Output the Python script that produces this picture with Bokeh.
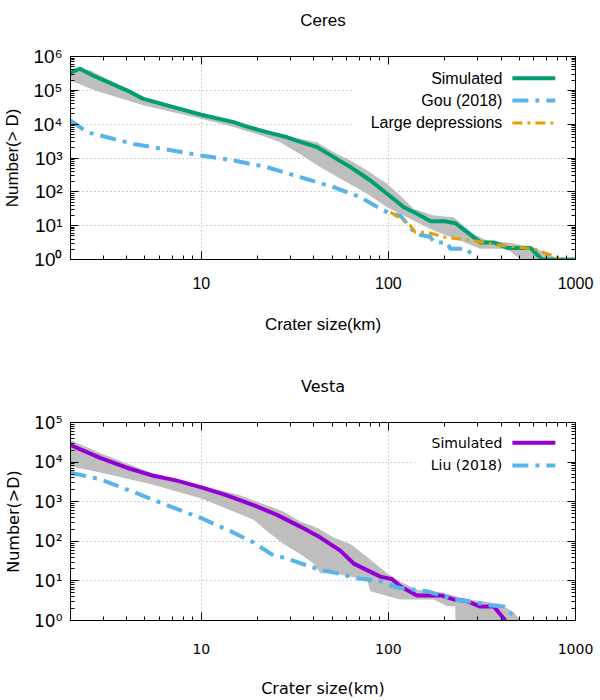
import numpy as np
from bokeh.plotting import figure
from bokeh.models import (LogAxis, LogTicker, CustomJSTickFormatter, Label,
                          BoxAnnotation, Range1d)
from bokeh.layouts import column
from bokeh.embed import file_html
from bokeh.resources import INLINE

# ---------------- data ----------------
XMIN, XMAX = 2, 1000

# Ceres
ceres_sim_d = [2.0, 2.25, 2.65, 4.0, 4.9, 7.1, 10, 14.9, 17.5, 22.4, 28.7, 33.8, 41.6, 51, 62.7,
               80.2, 98.4, 121, 142, 168, 198, 228, 310, 366, 431, 574, 663, 1000]
ceres_sim_n = [3.4e5, 4.3e5, 2.7e5, 1.0e5, 5.6e4, 3.2e4, 1.9e4, 1.15e4, 8.5e3, 5.8e3, 4.1e3, 3.0e3,
               2.1e3, 1.06e3, 537, 216, 87.7, 35, 22.4, 13.6, 13.6, 11.8, 3.2, 3.2, 2.2, 2.2, 1, 1]

ceres_up_d = [2, 2.55, 3.26, 4.0, 4.9, 7.1, 10, 14.9, 22.4, 33.8, 41.6, 51, 62.7, 77, 98.4, 115.6,
              136, 175, 223, 286, 337, 431, 598, 706, 832]
ceres_up_n = [3.4e5, 3.9e5, 1.95e5, 1.1e5, 6.5e4, 3.6e4, 2.1e4, 1.25e4, 6.5e3, 3.7e3, 2.9e3, 1.48e3,
              846, 427, 173, 78, 31.5, 20, 17.8, 5.7, 3.6, 3.2, 2.3, 1.47, 1.0]
ceres_lo_d = [2, 2.45, 2.88, 4.9, 10, 14.9, 22.4, 26.4, 31.2, 33.8, 43.3, 57.7, 77, 98.4, 121, 142,
              175, 243, 310, 431, 508, 832]
ceres_lo_n = [1.95e5, 1.24e5, 8.9e4, 3.6e4, 1.44e4, 8.2e3, 4.1e3, 2.9e3, 1.66e3, 1.3e3, 537, 216,
              87.7, 35, 20, 12.7, 7.2, 3.6, 2.07, 2.07, 1.0, 1.0]

gou_d = [2, 2.45, 4.35, 10, 14.9, 22.4, 33.8, 51, 70.8, 90.6, 102.6, 115.6, 131, 139, 168, 175, 206,
         214, 263, 276, 300]
gou_n = [1.29e4, 5.8e3, 2.6e3, 1.19e3, 846, 537, 272, 137, 69.6, 31.5, 22.4, 20, 9, 5.7, 4.6, 3.2,
         3.2, 2.07, 2.07, 1.47, 0.9]

large_d = [102.6, 121, 131, 139, 161, 198, 286, 398, 598, 794, 900]
large_n = [25, 14.2, 10, 6.4, 6.4, 4.6, 3.6, 2.6, 2.07, 1.17, 1.0]

# Vesta
vesta_sim_d = [2, 2.88, 4.0, 5.56, 7.41, 10, 13.7, 19, 25.4, 33.8, 43.3, 55.3, 65.3, 90.6, 104.7,
               115.6, 142, 190, 223, 263, 310, 366, 422]
vesta_sim_n = [2.7e4, 1.28e4, 7.2e3, 4.5e3, 3.4e3, 2.3e3, 1.45e3, 820, 465, 235, 124, 58, 27.3,
               12.8, 11, 7.3, 4.3, 4.3, 3.4, 3.1, 2.25, 2.25, 1.0]

vesta_up_d = [2, 2.88, 5.33, 10, 16.1, 27.5, 33.8, 41.6, 51, 62.7, 77, 98.4, 115.6, 142, 198, 263,
              310, 398, 468, 508]
vesta_up_n = [3.6e4, 1.7e4, 5.5e3, 2.55e3, 1.45e3, 563, 318, 219, 124, 85, 40, 15.5, 9.7, 6, 5,
              3.4, 3.1, 2.6, 1.6, 1.0]
vesta_lo_d = [2, 2.88, 5.33, 10, 14.9, 19, 22.4, 27.5, 33.8, 39.9, 43.3, 51, 77, 80, 115.6, 175,
              206, 228, 228, 508]
vesta_lo_n = [7.9e3, 5.5e3, 2.8e3, 1.2e3, 563, 350, 181, 85, 48, 27, 15.5, 15.5, 10.6, 5.5, 3.4,
              3.4, 2.3, 2.3, 1.0, 1.0]

liu_d = [2, 2.88, 4.35, 6.55, 10, 14.9, 19, 24.3, 28.1, 33.8, 43.3, 55, 66.5, 77, 92.6, 106, 115.6,
         161, 223, 263, 351, 414, 498]
liu_n = [5.4e3, 3.7e3, 1.75e3, 820, 385, 165, 93, 44, 38, 28, 19, 15.2, 11.8, 10.8, 9.7, 7.3, 6.6,
         5.5, 3.4, 3.1, 2.4, 2.25, 1.0]

# ---------------- styles ----------------
GREEN = "#009e73"
BLUE = "#56b4e9"
ORANGE = "#e69f00"
PURPLE = "#9400d3"
BAND = "#bebebe"

SUP_JS = """
const s = {'0':'\u2070','1':'\u00b9','2':'\u00b2','3':'\u00b3','4':'\u2074','5':'\u2075',
           '6':'\u2076','7':'\u2077','8':'\u2078','9':'\u2079','-':'\u207b'};
const e = Math.round(Math.log10(tick));
return '10' + String(e).split('').map(c => s[c]).join('');
"""
NUM_JS = "return String(Math.round(tick));"


def fx(frac):
    a, b = np.log10(XMIN), np.log10(XMAX)
    return 10 ** (a + frac * (b - a))


def fy(frac, ymax):
    return 10 ** (frac * np.log10(ymax))


def tick_style(ax):
    ax.major_tick_in = 8
    ax.major_tick_out = 0
    ax.minor_tick_in = 4
    ax.minor_tick_out = 0
    ax.axis_line_color = "black"
    ax.major_tick_line_color = "black"
    ax.minor_tick_line_color = "black"


def make_fig(height, ymax, title, ylab, font, fs_title, fs_label, fs_xtick, fs_ytick,
             tick_standoff, label_standoff):
    p = figure(width=600, height=height, x_axis_type="log", y_axis_type="log",
               x_range=Range1d(XMIN, XMAX), y_range=Range1d(1, ymax),
               output_backend="svg", toolbar_location=None,
               min_border_left=70, min_border_right=25, min_border_top=56,
               min_border_bottom=height - 259)
    p.background_fill_color = "white"
    p.border_fill_color = "white"
    p.outline_line_color = "black"
    p.outline_line_width = 1

    # title: a blank second line lifts it well above the frame
    p.title.text = title + "\n "
    p.title.align = "center"
    p.title.text_font = font
    p.title.text_font_style = "normal"
    p.title.text_font_size = fs_title
    p.title.text_color = "black"
    p.title.standoff = 16

    xa = p.xaxis[0]
    xa.ticker = LogTicker(num_minor_ticks=10)
    xa.formatter = CustomJSTickFormatter(code=NUM_JS)
    xa.axis_label = "Crater size(km)"
    xa.major_label_standoff = tick_standoff
    xa.axis_label_standoff = label_standoff
    ya = p.yaxis[0]
    ya.ticker = LogTicker(num_minor_ticks=10)
    ya.formatter = CustomJSTickFormatter(code=SUP_JS)
    ya.axis_label = ylab
    ya.major_label_standoff = 8
    ya.axis_label_standoff = 8
    for ax, fs in ((xa, fs_xtick), (ya, fs_ytick)):
        tick_style(ax)
        ax.major_label_text_font = font
        ax.major_label_text_font_size = fs
        ax.major_label_text_color = "black"
        ax.axis_label_text_font = font
        ax.axis_label_text_font_size = fs_label
        ax.axis_label_text_font_style = "normal"
        ax.axis_label_text_color = "black"

    for loc in ("right", "above"):
        ax = LogAxis(ticker=LogTicker(num_minor_ticks=10),
                     formatter=CustomJSTickFormatter(code="return '';"),
                     major_label_text_font_size="0px", major_label_standoff=0)
        tick_style(ax)
        p.add_layout(ax, loc)

    for g in (p.xgrid[0], p.ygrid[0]):
        g.grid_line_color = "#a0a0a0"
        g.grid_line_dash = "1 3"
        g.grid_line_width = 1
        g.level = "image"
    return p


def add_legend(p, ymax, box, rows, font, fs):
    bx0, by0 = box
    p.add_layout(BoxAnnotation(left=fx(bx0), right=XMAX, bottom=fy(by0, ymax), top=ymax,
                               fill_color="white", fill_alpha=1.0, line_alpha=0,
                               level="underlay"))
    for text, yf, color, width, dash in rows:
        yy = fy(yf, ymax)
        p.add_layout(Label(x=fx(0.855), y=yy, text=text, text_align="right",
                           text_baseline="middle", text_font=font, text_font_size=fs,
                           text_color="black"))
        p.segment(x0=[fx(0.875)], y0=[yy], x1=[fx(0.96)], y1=[yy], line_color=color,
                  line_width=width, line_dash=dash)


# ---------------- Ceres ----------------
F1 = "Liberation Sans"
p1 = make_fig(366, 1e6, "Ceres", "Number(> D)", F1, "17px", "17px", "16px", "19px", 17, 23)
p1.patch(ceres_up_d + ceres_lo_d[::-1], ceres_up_n + ceres_lo_n[::-1],
         fill_color=BAND, line_alpha=0)
p1.line(ceres_sim_d, ceres_sim_n, line_color=GREEN, line_width=4)
p1.line(gou_d, gou_n, line_color=BLUE, line_width=4, line_dash="16 7 4 7")
p1.line(large_d, large_n, line_color=ORANGE, line_width=3, line_dash="10 5 3 5")
add_legend(p1, 1e6, (0.558, 0.635), [
    ("Simulated", 0.893, GREEN, 4, "solid"),
    ("Gou (2018)", 0.783, BLUE, 4, "16 7 4 7"),
    ("Large depressions", 0.673, ORANGE, 3, "10 5 3 5"),
], F1, "16px")

# ---------------- Vesta ----------------
F2 = "DejaVu Sans"
p2 = make_fig(334, 1e5, "Vesta", "Number(>D)", F2, "16px", "16px", "14px", "17px", 23, 22)
p2.patch(vesta_up_d + vesta_lo_d[::-1], vesta_up_n + vesta_lo_n[::-1],
         fill_color=BAND, line_alpha=0)
p2.line(vesta_sim_d, vesta_sim_n, line_color=PURPLE, line_width=4)
p2.line(liu_d, liu_n, line_color=BLUE, line_width=4, line_dash="16 7 4 7")
add_legend(p2, 1e5, (0.683, 0.64), [
    ("Simulated", 0.898, PURPLE, 4, "solid"),
    ("Liu (2018)", 0.783, BLUE, 4, "16 7 4 7"),
], F2, "14px")

layout = column(p1, p2, spacing=0)
open("out.html", "w").write(file_html(layout, INLINE))
